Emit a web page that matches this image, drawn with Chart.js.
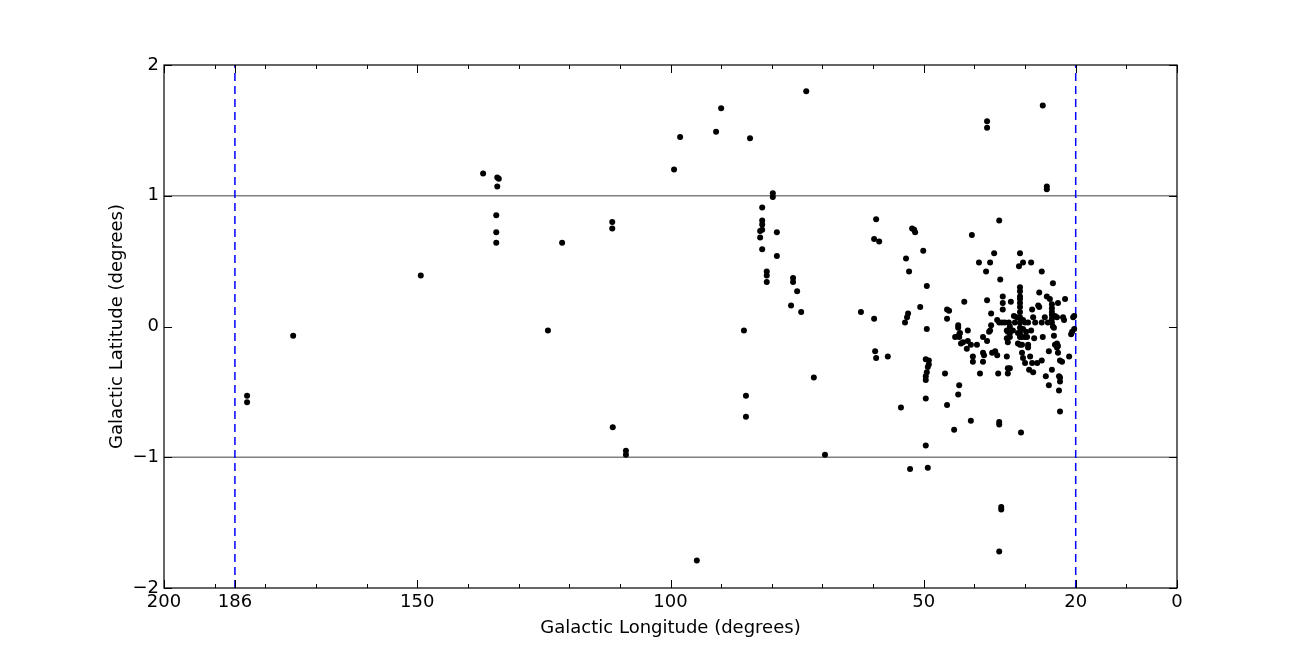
<!DOCTYPE html>
<html>
<head>
<meta charset="utf-8">
<script src="https://cdn.jsdelivr.net/npm/chart.js@4.4.1/dist/chart.umd.min.js"></script>
<style>
  body { margin: 0; background: #fff; }
</style>
</head>
<body>
<canvas id="chart" width="1308" height="654"></canvas>
<script>
// source positions (longitude, latitude in degrees)
const lon = [
  183.6,183.6,174.5,149.3,137.0,134.2,133.9,134.2,134.4,134.4,134.4,121.4,124.2,111.5,111.5,111.4,108.8,108.8,99.3,98.1,
  94.8,91.0,90.0,84.3,85.5,85.1,85.1,73.2,79.8,79.8,81.9,81.9,81.9,81.9,82.3,82.3,79.0,81.9,79.0,81.0,
  81.0,81.0,75.8,75.8,75.0,76.2,74.2,71.7,69.5,62.4,59.8,59.4,59.8,58.8,59.6,59.4,57.1,
  26.5,37.5,37.5,25.7,25.7,52.3,51.9,51.7,40.5,35.1,50.1,53.5,52.9,49.4,36.1,39.1,36.9,37.7,31.0,30.4,
  31.2,28.8,26.7,34.9,24.5,31.0,31.0,31.0,31.0,31.0,31.0,31.0,31.0,31.0,31.0,31.0,31.0,34.4,34.4,34.4,
  32.8,27.2,25.7,25.1,23.5,22.1,24.7,24.7,24.7,24.7,24.7,24.7,24.1,23.7,22.5,22.3,20.5,20.3,20.9,20.7,
  20.3,24.3,24.5,28.6,27.2,27.4,32.2,31.6,32.0,30.4,30.0,29.4,28.4,28.0,26.7,26.1,25.5,30.4,29.8,28.8,
  31.4,30.6,30.0,28.2,26.5,36.7,35.5,35.1,34.55,34.0,33.2,33.0,33.6,33.0,32.4,36.7,36.9,38.3,37.5,37.1,
  37.5,42.0,50.7,45.4,45.0,45.4,53.1,53.3,53.7,49.4,43.2,43.2,42.85,43.0,43.8,43.0,42.65,42.25,41.3,41.3,
  41.5,40.7,39.5,33.4,33.6,33.0,33.4,31.0,30.6,31.4,29.6,29.4,29.4,24.3,23.7,24.1,23.5,23.7,23.5,25.3,
  23.1,22.7,21.3,40.3,40.3,38.3,38.1,38.3,36.5,35.9,35.5,33.6,33.4,33.0,33.4,30.6,30.4,30.0,29.0,28.6,
  27.6,26.7,29.2,28.4,25.9,24.7,23.3,23.1,23.1,23.3,25.3,49.6,49.0,49.0,49.2,49.4,49.6,49.6,45.8,38.9,
  35.3,43.0,43.2,54.5,49.6,45.4,23.1,40.7,35.1,35.1,44.0,30.8,49.6,52.7,49.2,34.7,34.7,35.1
];
const lat = [
  -0.53,-0.58,-0.07,0.39,1.17,1.14,1.13,1.07,0.85,0.72,0.64,0.64,-0.03,0.80,0.75,-0.77,-0.95,-0.98,1.20,1.45,
  -1.79,1.49,1.67,1.44,-0.03,-0.53,-0.69,1.80,1.02,0.99,0.91,0.81,0.78,0.74,0.73,0.68,0.72,0.59,0.54,0.42,
  0.39,0.34,0.37,0.34,0.27,0.16,0.11,-0.39,-0.98,0.11,0.06,0.82,0.67,0.65,-0.19,-0.24,-0.23,
  1.69,1.57,1.52,1.07,1.05,0.75,0.74,0.72,0.70,0.81,0.58,0.52,0.42,0.31,0.56,0.49,0.49,0.42,0.56,0.49,
  0.46,0.49,0.42,0.36,0.33,0.30,0.27,0.23,0.21,0.18,0.15,0.11,0.07,0.03,-0.01,-0.05,-0.08,0.23,0.18,0.13,
  0.19,0.26,0.23,0.21,0.18,0.21,0.17,0.14,0.11,0.09,0.06,0.03,0.08,0.07,0.07,0.05,0.07,0.08,-0.06,-0.04,
  -0.02,-0.01,0.00,0.13,0.15,0.16,0.08,0.07,0.03,0.05,0.03,0.03,0.07,0.03,0.03,0.07,0.03,-0.02,-0.04,-0.03,
  -0.05,-0.08,-0.08,-0.09,-0.08,0.10,0.05,0.03,0.03,0.03,0.03,0.00,-0.03,-0.05,-0.03,0.01,-0.03,-0.08,-0.11,-0.04,
  0.20,0.19,0.15,0.13,0.12,0.06,0.10,0.07,0.03,-0.02,0.01,-0.01,-0.05,-0.06,-0.08,-0.08,-0.13,-0.12,-0.03,-0.11,
  -0.17,-0.14,-0.14,-0.12,-0.09,-0.08,-0.04,-0.14,-0.14,-0.13,-0.08,-0.14,-0.16,-0.07,-0.13,-0.14,-0.15,-0.16,-0.20,-0.19,
  -0.26,-0.27,-0.23,-0.23,-0.27,-0.20,-0.22,-0.27,-0.20,-0.19,-0.22,-0.23,-0.32,-0.32,-0.36,-0.20,-0.24,-0.28,-0.23,-0.28,
  -0.28,-0.26,-0.33,-0.35,-0.38,-0.33,-0.38,-0.39,-0.42,-0.49,-0.45,-0.25,-0.26,-0.29,-0.31,-0.35,-0.38,-0.41,-0.36,-0.36,
  -0.36,-0.45,-0.52,-0.62,-0.55,-0.60,-0.65,-0.72,-0.73,-0.75,-0.79,-0.81,-0.91,-1.09,-1.08,-1.38,-1.40,-1.72
];

const xTickLabels = [200, 186, 150, 100, 50, 20, 0];
const yTickLabels = [-2, -1, 0, 1, 2];
const refLon = [186, 20];   // blue dashed limits
const refLat = [-1, 1];     // grey latitude bounds

const FONT = 'DejaVu Sans, sans-serif';

const points = lon.map((l, i) => ({ x: l, y: lat[i] }));

const datasets = [{
  type: 'scatter',
  data: points,
  pointRadius: 3,
  pointBorderWidth: 0,
  pointBackgroundColor: '#000',
  order: 0
}];
refLon.forEach(v => datasets.push({
  type: 'line',
  data: [{ x: v, y: -2 }, { x: v, y: 2 }],
  borderColor: '#0000ff',
  borderWidth: 1.5,
  borderDash: [8, 5],
  pointRadius: 0,
  order: 1
}));
refLat.forEach(v => datasets.push({
  type: 'line',
  data: [{ x: 0, y: v }, { x: 200, y: v }],
  borderColor: '#808080',
  borderWidth: 1.5,
  pointRadius: 0,
  order: 2
}));

// frame with inward ticks, matplotlib style
const frameTicks = {
  id: 'frameTicks',
  afterDatasetsDraw(chart) {
    const { ctx, chartArea: a, scales: { x, y } } = chart;
    ctx.save();
    ctx.strokeStyle = '#000';
    ctx.lineWidth = 1;
    ctx.beginPath();
    for (let v = 0; v <= 200; v += 10) {
      const px = Math.round(x.getPixelForValue(v)) + 0.5;
      ctx.moveTo(px, a.bottom); ctx.lineTo(px, a.bottom - 4);
      ctx.moveTo(px, a.top); ctx.lineTo(px, a.top + 4);
    }
    xTickLabels.forEach(v => {
      const px = Math.round(x.getPixelForValue(v)) + 0.5;
      ctx.moveTo(px, a.bottom); ctx.lineTo(px, a.bottom - 8);
      ctx.moveTo(px, a.top); ctx.lineTo(px, a.top + 8);
    });
    yTickLabels.forEach(v => {
      const py = Math.round(y.getPixelForValue(v)) + 0.5;
      ctx.moveTo(a.left, py); ctx.lineTo(a.left + 8, py);
      ctx.moveTo(a.right, py); ctx.lineTo(a.right - 8, py);
    });
    ctx.stroke();
    ctx.lineWidth = 1.2;
    ctx.strokeRect(a.left, a.top, a.right - a.left, a.bottom - a.top);
    ctx.restore();
  }
};

new Chart(document.getElementById('chart'), {
  type: 'scatter',
  data: { datasets: datasets },
  options: {
    responsive: false,
    animation: false,
    layout: { padding: { left: 100, top: 65, right: 131, bottom: 0 } },
    plugins: { legend: { display: false }, tooltip: { enabled: false } },
    scales: {
      x: {
        type: 'linear',
        reverse: true,
        min: 0,
        max: 200,
        afterBuildTicks: s => { s.ticks = xTickLabels.map(v => ({ value: v })); },
        afterFit: s => { s.height = 66; },
        grid: { display: false, drawTicks: false },
        border: { display: false },
        ticks: { color: '#000', padding: 4, font: { family: FONT, size: 18 }, maxRotation: 0, autoSkip: false },
        title: { display: true, text: 'Galactic Longitude (degrees)', color: '#000',
                 font: { family: FONT, size: 18 }, padding: { top: 0, bottom: 15 } }
      },
      y: {
        min: -2,
        max: 2,
        afterBuildTicks: s => { s.ticks = yTickLabels.map(v => ({ value: v })); },
        afterFit: s => { s.width = 64; },
        grid: { display: false, drawTicks: false },
        border: { display: false },
        ticks: { color: '#000', padding: 5, font: { family: FONT, size: 18 },
                 callback: v => v < 0 ? '\u2212' + Math.abs(v) : String(v) },
        title: { display: true, text: 'Galactic Latitude (degrees)', color: '#000',
                 font: { family: FONT, size: 18 }, padding: { top: 7, bottom: 0 } }
      }
    }
  },
  plugins: [frameTicks]
});
</script>
</body>
</html>
